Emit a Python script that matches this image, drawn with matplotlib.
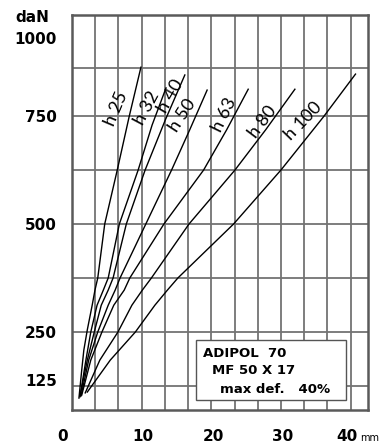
import numpy as np
import matplotlib
matplotlib.use("Agg")
import matplotlib.pyplot as plt
from matplotlib.patches import Rectangle

# deflection [mm] / load [daN], one pair of lists per height
h25_x = [1.0, 1.4, 1.7, 2.2, 2.9, 3.3, 3.7, 4.7, 6.5, 8.2, 9.9]
h25_y = [97, 162, 208, 255, 312, 347, 375, 500, 625, 748, 863]
h32_x = [1.15, 2.0, 2.7, 3.6, 4.5, 5.2, 6.8, 9.5, 11.5, 13.5]
h32_y = [100, 185, 250, 312, 347, 375, 500, 625, 729, 815]
h40_x = [1.15, 2.2, 3.2, 4.2, 5.2, 5.9, 7.8, 10.5, 13.4, 16.2]
h40_y = [102, 185, 250, 312, 347, 375, 500, 625, 741, 845]
h50_x = [1.3, 2.4, 3.7, 5.2, 6.2, 6.9, 10.6, 14.3, 16.9, 19.4]
h50_y = [102, 185, 250, 312, 347, 375, 500, 625, 718, 810]
h63_x = [1.4, 2.7, 4.3, 6.0, 7.5, 8.3, 13.2, 18.9, 22.2, 25.3]
h63_y = [104, 185, 250, 312, 347, 375, 500, 625, 718, 812]
h80_x = [1.9, 4.0, 6.6, 8.6, 10.1, 11.4, 16.8, 23.4, 27.8, 32.0]
h80_y = [109, 185, 250, 312, 347, 375, 500, 625, 718, 812]
h100_x = [2.2, 5.5, 9.1, 11.9, 13.7, 15.2, 23.2, 30.0, 36.1, 40.7]
h100_y = [111, 185, 250, 312, 347, 375, 500, 625, 748, 847]

curve_names = ["h 25", "h 32", "h 40", "h 50", "h 63", "h 80", "h 100"]
curves_x = [h25_x, h32_x, h40_x, h50_x, h63_x, h80_x, h100_x]
curves_y = [h25_y, h32_y, h40_y, h50_y, h63_y, h80_y, h100_y]

# where each name sits and how it is turned
label_x = [6.3, 10.8, 14.2, 15.9, 21.8, 27.4, 33.2]
label_y = [768, 768, 796, 752, 752, 736, 738]
label_rot = [67, 62, 60, 57, 64, 53, 46]

ytick_pos = [139, 250, 500, 750, 930]
ytick_lab = ["125", "250", "500", "750", "1000"]
xtick_pos = [-1.3, 10.2, 20.3, 30.3, 39.5]
xtick_lab = ["0", "10", "20", "30", "40"]

hgrid = [125, 250, 375, 500, 625, 750, 860]
vgrid = np.arange(1, 13) * 10 / 3

fig = plt.figure(figsize=(3.87, 4.48), dpi=100)
ax = fig.add_axes([0.186, 0.0848, 0.765, 0.8817])
ax.set_xlim(0, 42.5)
ax.set_ylim(69.4, 983.8)

gridcol = "#737373"
for v in hgrid:
    ax.axhline(v, color=gridcol, lw=1.3, zorder=1)
for v in vgrid:
    ax.axvline(v, color=gridcol, lw=1.3, zorder=1)
for s in ax.spines.values():
    s.set_color("#5a5a5a")
    s.set_linewidth(1.8)

for xs, ys in zip(curves_x, curves_y):
    ax.plot(xs, ys, color="black", lw=1.0, zorder=3)

for name, lx, ly, r in zip(curve_names, label_x, label_y, label_rot):
    ax.text(lx, ly, name, rotation=r, rotation_mode="anchor", ha="center",
            va="center", fontsize=13, family="Lato", zorder=4)

ax.set_xticks([])
ax.set_yticks(ytick_pos)
ax.set_yticklabels(ytick_lab, fontsize=11, fontweight="bold")
ax.tick_params(axis="y", length=0, pad=11)

xt = ax.get_xaxis_transform()
for p, lab in zip(xtick_pos, xtick_lab):
    ax.text(p, -0.068, lab, transform=xt, ha="center", va="center",
            fontsize=11, fontweight="bold", clip_on=False)
ax.text(41.4, -0.07, "mm", transform=xt, ha="left", va="center", fontsize=7,
        clip_on=False)
fig.text(32 / 387, 1 - 17 / 448, "daN", ha="center", va="center",
         fontsize=11, fontweight="bold")

# info box
ax.add_patch(Rectangle((0.419, 0.025), 0.507, 0.152, transform=ax.transAxes,
                       facecolor="white", edgecolor="#555555", lw=1, zorder=5))
ax.text(0.443, 0.144, "ADIPOL  70", transform=ax.transAxes, fontsize=9.5,
        fontweight="bold", va="center", zorder=6)
ax.text(0.473, 0.099, "MF 50 X 17", transform=ax.transAxes, fontsize=9.5,
        fontweight="bold", va="center", zorder=6)
ax.text(0.5, 0.051, "max def.   40%", transform=ax.transAxes, fontsize=9.5,
        fontweight="bold", va="center", zorder=6)

fig.savefig("out.png", dpi=100)
